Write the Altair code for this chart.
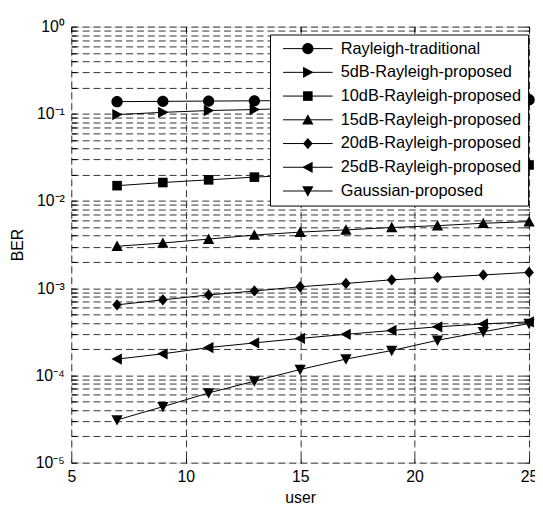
import altair as alt
import pandas as pd

# ---------------- data ----------------
users = [7, 9, 11, 13, 15, 17, 19, 21, 23, 25]
series_names = [
    "Rayleigh-traditional",
    "5dB-Rayleigh-proposed",
    "10dB-Rayleigh-proposed",
    "15dB-Rayleigh-proposed",
    "20dB-Rayleigh-proposed",
    "25dB-Rayleigh-proposed",
    "Gaussian-proposed",
]
ber_traditional = [0.138, 0.139, 0.140, 0.141, 0.142, 0.142, 0.143, 0.144, 0.144, 0.145]
ber_5db = [0.098, 0.104, 0.109, 0.112, 0.116, 0.119, 0.122, 0.126, 0.130, 0.135]
ber_10db = [0.0150, 0.0163, 0.0175, 0.0188, 0.0199, 0.0210, 0.0222, 0.0234, 0.0246, 0.0259]
ber_15db = [0.00303, 0.00330, 0.00366, 0.00407, 0.00440, 0.00467, 0.00497, 0.00522, 0.00556, 0.00580]
ber_20db = [0.000645, 0.000736, 0.000838, 0.000930, 0.00104, 0.001135, 0.00125, 0.00133, 0.00142, 0.00152]
ber_25db = [0.000154, 0.000177, 0.000209, 0.000236, 0.000266, 0.000296, 0.000328, 0.000361, 0.000390, 0.000411]
ber_gauss = [3.09e-5, 4.38e-5, 6.3e-5, 8.6e-5, 1.17e-4, 1.54e-4, 1.93e-4, 2.53e-4, 3.17e-4, 3.94e-4]

x_ticks = [5, 10, 15, 20, 25]
y_decades = [1e-5, 1e-4, 1e-3, 1e-2, 1e-1, 1e0]
y_decade_labels = ["10⁻⁵", "10⁻⁴", "10⁻³", "10⁻²", "10⁻¹", "10⁰"]

# marker shapes (custom paths, MATLAB-like)
marker_paths = [
    "M-1,0A1,1,0,1,1,1,0A1,1,0,1,1,-1,0Z",          # circle
    "M-0.85,-1L1,0L-0.85,1Z",                          # triangle right
    "M-0.85,-0.85L0.85,-0.85L0.85,0.85L-0.85,0.85Z",   # square
    "M-1,0.85L1,0.85L0,-1Z",                           # triangle up
    "M0,-1L0.85,0L0,1L-0.85,0Z",                       # diamond
    "M0.85,-1L-1,0L0.85,1Z",                           # triangle left
    "M-1,-0.85L1,-0.85L0,1Z",                          # triangle down
]
legend_line_path = "M-4.4,0L4.4,0"

all_series = [ber_traditional, ber_5db, ber_10db, ber_15db, ber_20db, ber_25db, ber_gauss]
rows = []
for name, vals in zip(series_names, all_series):
    for u, v in zip(users, vals):
        rows.append({"user": u, "BER": v, "series": name})
df = pd.DataFrame(rows)

# minor grid values for log axis
y_grid_values = []
for d in y_decades[:-1]:
    for m in range(1, 10):
        y_grid_values.append(round(d * m, 12))
y_grid_values.append(1.0)

label_expr = "''"
for v, lab in zip(y_decades, y_decade_labels):
    label_expr = f"abs(datum.value/{v!r} - 1) < 1e-6 ? '{lab}' : ({label_expr})"

FONT = "Liberation Sans"
W, H = 463, 441

x_scale = alt.Scale(domain=[5, 25], nice=False, zero=False)
y_scale = alt.Scale(type="log", domain=[1e-5, 1], nice=False)

main_x_axis = alt.Axis(
    values=x_ticks, title="user", grid=True, gridDash=[7, 4], gridColor="#333",
    gridWidth=1, tickSize=0, labelPadding=6, titlePadding=5, domain=False,
    labelFont=FONT, labelFontSize=16, titleFont=FONT, titleFontSize=16,
    titleFontWeight="normal", labelColor="black", titleColor="black",
    labelFlush=False,
)
main_y_axis = alt.Axis(
    values=y_grid_values, labelExpr=label_expr, title="BER", grid=True,
    gridDash=[7, 4], gridColor="#333", gridWidth=1, tickSize=0, labelPadding=7,
    titlePadding=10, domain=False, labelFont=FONT, labelFontSize=16,
    titleFont=FONT, titleFontSize=16, titleFontWeight="normal",
    labelColor="black", titleColor="black", labelFlush=False, labelOverlap=False,
)


def tick_axis(values, orient, offset):
    # inward tick marks along the frame (MATLAB style)
    return alt.Axis(values=values, orient=orient, offset=offset, labels=False,
                    domain=False, grid=False, title=None, ticks=True, tickSize=5,
                    tickColor="black", tickWidth=1)


LEG_X, LEG_Y = 201, 8
common_legend = dict(
    title=None, orient="none", legendX=LEG_X, legendY=LEG_Y, padding=6,
    cornerRadius=0, symbolSize=130, symbolOffset=24, labelOffset=25, rowPadding=7,
    labelFont=FONT, labelFontSize=16.5, labelLimit=0,
)

# legend with the line samples and the labels (drawn below)
legend_lines = alt.Legend(
    strokeColor="black", fillColor="white", labelColor="black",
    symbolStrokeColor="black", symbolStrokeWidth=1, symbolOpacity=1,
    symbolFillColor="transparent", zindex=1, **common_legend,
)
# legend with the markers only (drawn on top, same layout)
legend_markers = alt.Legend(
    labelColor="rgba(0,0,0,0)", symbolFillColor="black", symbolStrokeColor="black",
    symbolStrokeWidth=0.5, symbolOpacity=1, zindex=2, **common_legend,
)

lines = alt.Chart(df).mark_line(color="black", strokeWidth=1).encode(
    x=alt.X("user:Q", scale=x_scale, axis=main_x_axis),
    y=alt.Y("BER:Q", scale=y_scale, axis=main_y_axis),
    detail="series:N",
)

legend_layer = alt.Chart(df).transform_filter("false").mark_point(
    filled=False, color="black", size=130
).encode(
    x=alt.X("user:Q", scale=x_scale, axis=tick_axis(x_ticks, "top", -H)),
    y=alt.Y("BER:Q", scale=y_scale, axis=tick_axis(y_grid_values, "right", -W)),
    shape=alt.Shape("series:N",
                    scale=alt.Scale(domain=series_names, range=[legend_line_path] * len(series_names)),
                    legend=legend_lines),
)

ticks_layer = alt.Chart(df).transform_filter("false").mark_line(color="black").encode(
    x=alt.X("user:Q", scale=x_scale, axis=tick_axis(x_ticks, "bottom", -H)),
    y=alt.Y("BER:Q", scale=y_scale, axis=tick_axis(y_grid_values, "left", -W)),
)

points = alt.Chart(df).mark_point(filled=True, color="black", size=130, opacity=1).encode(
    x=alt.X("user:Q", scale=x_scale, axis=None),
    y=alt.Y("BER:Q", scale=y_scale, axis=None),
    shape=alt.Shape("series:N", scale=alt.Scale(domain=series_names, range=marker_paths),
                    legend=legend_markers),
)

chart = (
    alt.layer(lines, legend_layer, ticks_layer, points)
    .resolve_scale(shape="independent")
    .resolve_legend(shape="independent")
    .resolve_axis(x="independent", y="independent")
    .properties(
        width=W, height=H,
        autosize=alt.AutoSizeParams(type="none"),
        padding={"left": 64, "top": 16, "right": 6, "bottom": 40},
    )
    .configure_view(stroke="black", strokeWidth=1.5)
    .configure(background="white")
)

chart.save("out.html", embed_options={"renderer": "svg", "actions": False})
